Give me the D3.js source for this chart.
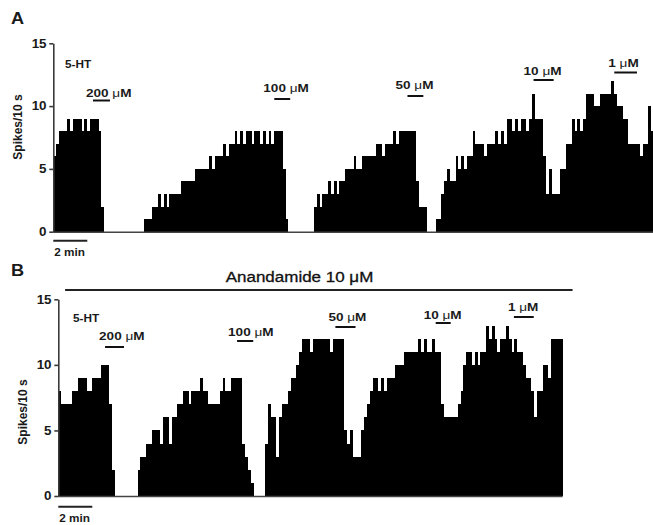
<!DOCTYPE html>
<html><head><meta charset="utf-8">
<script src="https://cdn.jsdelivr.net/npm/d3@7"></script>
<style>
html,body{margin:0;padding:0;background:#fff;}
svg{display:block;font-family:"Liberation Sans",Arial,Helvetica,sans-serif;}
</style>
</head><body>
<svg id="chart" width="653" height="525"></svg>
<script>
// ---------- data ----------
const binSeconds = 10;            // each bar = spikes counted in 10 s
const scaleBarSeconds = 120;      // "2 min" calibration bar
const scaleBarLabel = "2 min";
const yTicks = [0, 5, 10, 15];
const yTitle = "Spikes/10 s";
const agonistLabel = "5-HT";

// Panel A: spikes per 10-s bin
const spikesA = [
  6,7,8,8,8,9,8,9,9,9,8,9,8,9,9,9,8,2,
  0,0,0,0,0,0,0,0,0,0,0,0,0,0,
  1,1,1,2,2,3,2,3,2,3,3,3,3,4,4,4,4,4,5,5,5,5,5,6,5,6,6,6,7,6,7,7,
  8,7,8,7,8,8,7,8,8,7,8,7,8,7,8,8,8,5,1,
  0,0,0,0,0,0,0,0,0,
  2,3,2,3,3,4,3,4,3,4,4,5,5,5,6,5,5,6,6,6,6,6,7,7,6,7,7,7,8,7,8,8,8,8,8,8,4,2,2,2,
  0,0,0,
  1,1,3,4,5,4,4,6,5,6,5,6,6,8,7,7,7,6,7,7,7,8,7,8,7,9,9,8,9,8,9,9,8,9,11,9,9,9,
  6,3,5,3,3,3,5,5,7,7,9,8,9,8,9,11,11,11,10,10,11,11,11,11,12,11,10,10,9,9,7,7,7,7,6,7,7,10,8
];
// Panel B (with anandamide): spikes per 10-s bin
const spikesB = [
  8,7,7,7,7,8,8,9,9,9,8,8,9,9,9,10,10,10,7,2,
  0,0,0,0,0,0,0,0,
  2,3,3,4,4,5,5,5,4,6,6,4,6,6,7,7,8,8,7,8,8,8,9,8,8,7,7,7,7,8,9,8,8,9,9,9,9,
  4,3,2,1,
  0,0,0,0,
  4,7,6,6,3,6,7,7,8,9,9,10,11,
  12,12,12,11,12,12,12,12,12,12,11,12,12,12,12,
  5,4,5,3,3,3,5,6,7,8,9,9,8,9,8,9,9,9,
  10,10,10,11,11,11,11,11,12,11,12,11,11,12,11,11,
  7,6,6,6,6,6,7,8,
  10,11,11,10,11,10,11,11,
  13,12,13,12,11,12,12,13,12,11,12,11,11,10,
  9,9,8,6,8,8,10,10,9,12,12,12,12
];

// 5-HT applications (concentration in µM, start/end in seconds)
const doseA = ["200", "100", "50", "10", "1"];
const doseOnA = [140, 780, 1250, 1695, 1980];
const doseOffA = [200, 836, 1306, 1766, 2060];
const doseB = ["200", "100", "50", "10", "1"];
const doseOnB = [165, 631, 978, 1332, 1608];
const doseOffB = [232, 688, 1049, 1385, 1678];
const anandamideLabel = "Anandamide 10 ";
const anandamideOn = 24, anandamideOff = 1815;

// ---------- layout (pixels) ----------
const stretch = 1.18;   // reference text is slightly wider than tall
const layoutA = {letter: "A", x0: 53.3, y0: 231.7, y15: 43.3, letterX: 11, letterY: 24,
  titleX: 17, titleY: 127, htX: 65, htY: 68,
  lblDx: [-7, -11, -12, -10, -6], lblY: [96.5, 92, 89, 75, 67], barY: [100.5, 99, 96, 80, 72.5],
  scaleY: 240.7, scaleTextY: 256};
const layoutB = {letter: "B", x0: 58.3, y0: 496, y15: 299.3, letterX: 11, letterY: 276,
  titleX: 22, titleY: 412, htX: 73, htY: 322,
  lblDx: [-6, -9, -7, -12, -6], lblY: [340, 336, 321, 319, 311], barY: [347, 341, 327, 323, 317],
  scaleY: 506.7, scaleTextY: 522};

const pxPerSecond = 34 / 120;
const svg = d3.select("#chart");
svg.append("rect").attr("width", 653).attr("height", 525).attr("fill", "#fff");

function stretchedText(g, x, y, size, weight, sx) {
  return g.append("text")
    .attr("transform", `translate(${x},${y}) scale(${sx},1)`)
    .attr("font-size", size).attr("font-weight", weight).attr("fill", "#1a1a1a");
}

function drawPanel(values, lay, doses, on, off) {
  const g = svg.append("g");
  const n = values.length;
  const x = d3.scaleLinear().domain([0, n * binSeconds])
    .range([lay.x0, lay.x0 + n * binSeconds * pxPerSecond]);
  const y = d3.scaleLinear().domain([0, 15]).range([lay.y0, lay.y15]);

  // bars
  g.append("g").attr("shape-rendering", "crispEdges")
    .selectAll("rect").data(values).join("rect")
    .attr("x", (d, i) => x(i * binSeconds))
    .attr("width", (d, i) => x((i + 1) * binSeconds) - x(i * binSeconds))
    .attr("y", d => y(d))
    .attr("height", d => y(0) - y(d))
    .attr("fill", "#000");

  // baseline
  g.append("line")
    .attr("x1", x(0)).attr("x2", x(n * binSeconds))
    .attr("y1", y(0) + 0.5).attr("y2", y(0) + 0.5)
    .attr("stroke", "#444").attr("stroke-width", 1.6);

  // y axis
  const ax = g.append("g").attr("transform", `translate(${lay.x0},0)`)
    .call(d3.axisLeft(y).tickValues(yTicks).tickSize(4).tickSizeOuter(0).tickPadding(2));
  ax.select(".domain").attr("stroke", "#3a3a3a").attr("stroke-width", 1.6);
  ax.selectAll(".tick line").attr("stroke", "#3a3a3a").attr("stroke-width", 1.6);
  ax.selectAll(".tick text").attr("font-size", 12).attr("font-weight", "bold")
    .attr("fill", "#1a1a1a").attr("font-family", "'Liberation Sans',Arial,sans-serif")
    .attr("transform", "scale(1.12,1)").attr("x", -6);

  // y title
  g.append("text").attr("transform", `translate(${lay.titleX},${lay.titleY}) rotate(-90) scale(1,1.1)`)
    .attr("text-anchor", "middle").attr("dy", "0.35em")
    .attr("font-size", 12).attr("font-weight", "bold").attr("fill", "#1a1a1a").text(yTitle);

  // panel letter
  stretchedText(g, lay.letterX, lay.letterY, 16.5, "bold", 1.1).text(lay.letter);

  // 5-HT
  stretchedText(g, lay.htX, lay.htY, 10, "bold", stretch).text(agonistLabel);

  // dose bars + labels
  doses.forEach((d, i) => {
    g.append("line").attr("x1", x(on[i])).attr("x2", x(off[i]))
      .attr("y1", lay.barY[i]).attr("y2", lay.barY[i])
      .attr("stroke", "#111").attr("stroke-width", 2);
    const t = stretchedText(g, x(on[i]) + lay.lblDx[i], lay.lblY[i], 11.5, "bold", stretch);
    t.append("tspan").text(d + " ");
    t.append("tspan").attr("font-weight", "normal").text("\u03BC");
    t.append("tspan").text("M");
  });

  // calibration bar
  g.append("line").attr("x1", x(0)).attr("x2", x(scaleBarSeconds))
    .attr("y1", lay.scaleY).attr("y2", lay.scaleY)
    .attr("stroke", "#222").attr("stroke-width", 2);
  stretchedText(g, x(0) + 1, lay.scaleTextY, 10.5, "bold", 1.12).text(scaleBarLabel);
  return x;
}

drawPanel(spikesA, layoutA, doseA, doseOnA, doseOffA);
const xB = drawPanel(spikesB, layoutB, doseB, doseOnB, doseOffB);

// anandamide bar in B
svg.append("line").attr("x1", xB(anandamideOn)).attr("x2", xB(anandamideOff))
  .attr("y1", 290).attr("y2", 290).attr("stroke", "#222").attr("stroke-width", 2);
const at = svg.append("text")
  .attr("transform", `translate(299.5,282) scale(${stretch},1)`)
  .attr("text-anchor", "middle").attr("font-size", 14.4).attr("fill", "#111")
  .attr("stroke", "#111").attr("stroke-width", 0.3);
at.append("tspan").text(anandamideLabel);
at.append("tspan").text("\u03BC");
at.append("tspan").text("M");
</script>
</body></html>
